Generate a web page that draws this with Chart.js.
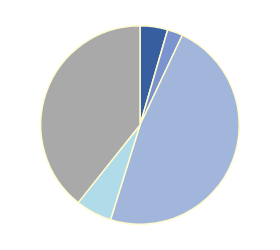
<!DOCTYPE html>
<html>
<head>
<meta charset="utf-8">
<script src="https://cdn.jsdelivr.net/npm/chart.js@4"></script>
<style>
  html, body { margin: 0; padding: 0; background: #fff; }
  #wrap { width: 280px; height: 250px; }
</style>
</head>
<body>
<div id="wrap"><canvas id="pieChart"></canvas></div>
<script>
const labels = ["A", "B", "C", "D", "E"];
const values = [4.5, 2.5, 47.8, 5.9, 39.3];
const colors = ["#375E9F", "#7B93CF", "#A2B5DB", "#B0DCEA", "#A9A9A9"];

new Chart("pieChart", {
  type: 'pie',
  data: {
    labels: labels,
    datasets: [{
      data: values,
      backgroundColor: colors,
      borderColor: '#FFFBD0',
      borderWidth: 1.5
    }]
  },
  options: {
    responsive: true,
    maintainAspectRatio: false,
    animation: false,
    layout: { padding: { top: 25, bottom: 25, left: 0, right: 0 } },
    plugins: {
      legend: { display: false },
      tooltip: { enabled: false }
    }
  }
});
</script>
</body>
</html>
